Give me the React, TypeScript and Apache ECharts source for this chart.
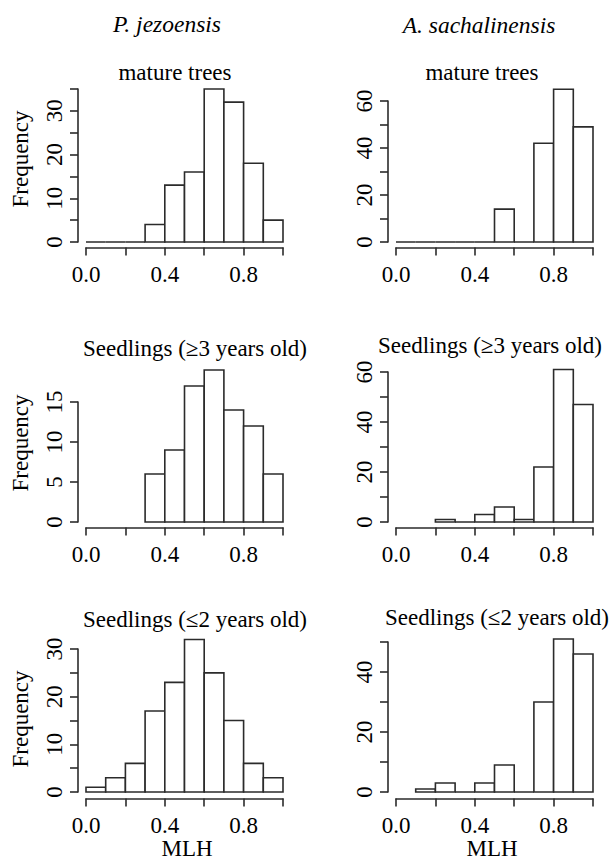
import React, { useEffect, useRef } from "react";
import * as echarts from "echarts";

// ---- data ----
const binEdges = [0, 0.1, 0.2, 0.3, 0.4, 0.5, 0.6, 0.7, 0.8, 0.9, 1.0];
// null = bin not part of that histogram
const pjMatureCounts = [0, 0, 0, 4, 13, 16, 35, 32, 18, 5];
const asMatureCounts = [0, 0, 0, 0, 0, 14, 0, 42, 65, 49];
const pjSeedOlderCounts = [null, null, null, 6, 9, 17, 19, 14, 12, 6];
const asSeedOlderCounts = [null, null, 1, 0, 3, 6, 1, 22, 61, 47];
const pjSeedYoungCounts = [1, 3, 6, 17, 23, 32, 25, 15, 6, 3];
const asSeedYoungCounts = [null, 1, 3, 0, 3, 9, 0, 30, 51, 46];

const xTickLabels = ["0.0", "0.4", "0.8"];
const yLabelsPjMature = [0, 10, 20, 30];
const yLabelsAsMature = [0, 20, 40, 60];
const yLabelsPjSeedOlder = [0, 5, 10, 15];
const yLabelsAsSeedOlder = [0, 20, 40, 60];
const yLabelsPjSeedYoung = [0, 10, 20, 30];
const yLabelsAsSeedYoung = [0, 20, 40];

const speciesTitles = ["P. jezoensis", "A. sachalinensis"];
const panelTitles = [
  "mature trees",
  "mature trees",
  "Seedlings (\u22653 years old)",
  "Seedlings (\u22653 years old)",
  "Seedlings (\u22642 years old)",
  "Seedlings (\u22642 years old)",
];
const yAxisTitle = "Frequency";
const xAxisTitle = "MLH";

const FONT = "Liberation Serif";
const LINE = "#2b2b2b";
const FS = 23;

const panels = [
  { counts: pjMatureCounts, yLabels: yLabelsPjMature, yMax: 35, yStep: 5, left: 86, top: 89, height: 153, xOff: 5.5 },
  { counts: asMatureCounts, yLabels: yLabelsAsMature, yMax: 60, yStep: 10, left: 396, top: 101, height: 141, xOff: 5.5 },
  { counts: pjSeedOlderCounts, yLabels: yLabelsPjSeedOlder, yMax: 15, yStep: 5, left: 86, top: 402, height: 120, xOff: 5.5 },
  { counts: asSeedOlderCounts, yLabels: yLabelsAsSeedOlder, yMax: 60, yStep: 10, left: 396, top: 372, height: 150, xOff: 5.5 },
  { counts: pjSeedYoungCounts, yLabels: yLabelsPjSeedYoung, yMax: 30, yStep: 5, left: 86, top: 649, height: 143, xOff: 6.5 },
  { counts: asSeedYoungCounts, yLabels: yLabelsAsSeedYoung, yMax: 50, yStep: 10, left: 396, top: 642, height: 150, xOff: 6.5 },
];

export default function App() {
  const ref = useRef<HTMLDivElement>(null);

  useEffect(() => {
    if (!ref.current) return;
    const chart = echarts.init(ref.current, undefined, { renderer: "svg" });

    const lineStyle = { color: LINE, width: 1.6 };
    const grid: any[] = [];
    const xAxis: any[] = [];
    const yAxis: any[] = [];
    const series: any[] = [];

    panels.forEach((p, i) => {
      grid.push({ left: p.left, top: p.top, width: 197, height: p.height });
      xAxis.push({
        type: "value",
        gridIndex: i,
        min: 0,
        max: 1,
        interval: 0.2,
        offset: p.xOff,
        axisLine: { show: true, onZero: false, lineStyle },
        axisTick: { show: true, length: 8, lineStyle },
        splitLine: { show: false },
        axisLabel: {
          margin: 15,
          color: "#000",
          fontFamily: FONT,
          fontSize: FS,
          formatter: (v: number) => {
            const s = v.toFixed(1);
            return xTickLabels.includes(s) ? s : "";
          },
        },
      });
      yAxis.push({
        type: "value",
        gridIndex: i,
        min: 0,
        max: p.yMax,
        interval: p.yStep,
        offset: 8,
        axisLine: { show: true, onZero: false, lineStyle },
        axisTick: { show: true, length: 8, lineStyle },
        splitLine: { show: false },
        axisLabel: {
          rotate: 90,
          margin: 12,
          color: "#000",
          fontFamily: FONT,
          fontSize: FS,
          formatter: (v: number) => (p.yLabels.includes(Math.round(v)) ? String(Math.round(v)) : ""),
        },
      });
      const data: any[] = [];
      p.counts.forEach((c, k) => {
        if (c === null) return;
        data.push([binEdges[k], binEdges[k + 1], c]);
      });
      series.push({
        type: "custom",
        xAxisIndex: i,
        yAxisIndex: i,
        clip: false,
        encode: { x: [0, 1], y: 2 },
        data,
        renderItem: (params: any, api: any) => {
          const x0 = api.value(0);
          const x1 = api.value(1);
          const c = api.value(2);
          const pTop = api.coord([x0, c]);
          const pBot = api.coord([x1, 0]);
          return {
            type: "rect",
            shape: { x: pTop[0], y: pTop[1], width: pBot[0] - pTop[0], height: pBot[1] - pTop[1] },
            style: { fill: "#fff", stroke: LINE, lineWidth: 1.6 },
          };
        },
      });
    });

    const txt = (text: string, x: number, y: number, opts: any = {}) => ({
      type: "text",
      x,
      y,
      rotation: opts.rotation || 0,
      style: {
        text,
        fill: "#000",
        fontFamily: FONT,
        fontSize: opts.size || FS,
        fontStyle: opts.italic ? "italic" : "normal",
        textAlign: "center",
        textVerticalAlign: "middle",
      },
    });

    const graphic: any[] = [
      txt(speciesTitles[0], 167, 24, { italic: true, size: 23.5 }),
      txt(speciesTitles[1], 479, 25, { italic: true, size: 23.5 }),
      txt(panelTitles[0], 175, 72),
      txt(panelTitles[1], 482, 72),
      txt(panelTitles[2], 195, 348),
      txt(panelTitles[3], 490, 345),
      txt(panelTitles[4], 195, 619),
      txt(panelTitles[5], 497, 617),
      txt(yAxisTitle, 20, 159, { rotation: Math.PI / 2 }),
      txt(yAxisTitle, 20, 443, { rotation: Math.PI / 2 }),
      txt(yAxisTitle, 20, 719, { rotation: Math.PI / 2 }),
      txt(xAxisTitle, 187, 848),
      txt(xAxisTitle, 492, 848),
    ];

    chart.setOption({
      animation: false,
      backgroundColor: "#fff",
      grid,
      xAxis,
      yAxis,
      series,
      graphic,
    });

    return () => chart.dispose();
  }, []);

  return (
    <div
      ref={ref}
      style={{ position: "absolute", left: 0, top: 0, width: 611, height: 861, background: "#fff" }}
    />
  );
}
